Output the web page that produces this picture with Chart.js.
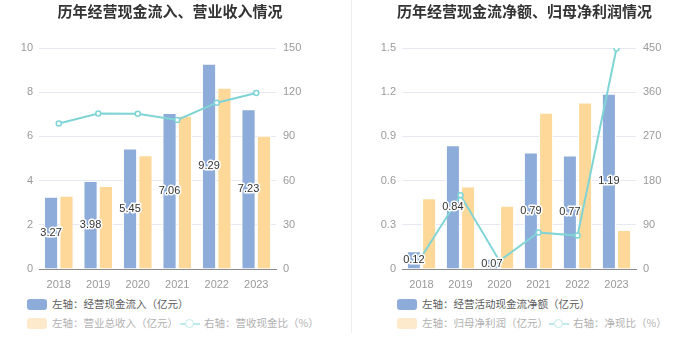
<!DOCTYPE html>
<html>
<head>
<meta charset="utf-8">
<script src="https://cdn.jsdelivr.net/npm/chart.js@4/dist/chart.umd.min.js"></script>
<style>
  body { margin: 0; background: #fff; font-family: "Noto Sans CJK SC", "Noto Sans", sans-serif; }
  #wrap { position: relative; width: 699px; height: 359px; overflow: hidden; }
  .box { position: absolute; top: 0; height: 290px; }
  .divider { position: absolute; left: 351px; top: 0; width: 1px; height: 333px; background: #eeeeee; }
  .leg { position: absolute; font-size: 10.5px; line-height: 14px; white-space: nowrap; color: #5c5c5c; }
  .leg.dim { color: #b0b0b0; }
  .sw { display: inline-block; width: 20px; height: 11px; border-radius: 3px; vertical-align: -2px; margin-right: 5px; }
  .ln { display: inline-block; position: relative; width: 20px; height: 11px; vertical-align: -2px; margin-right: 4px; }
  .ln:before { content: ""; position: absolute; left: 0; right: 0; top: 5px; height: 2px; background: #bfe9ea; }
  .ln:after { content: ""; position: absolute; left: 5px; top: 1px; width: 7px; height: 7px; border: 1.5px solid #bfe9ea; border-radius: 50%; background: #fff; }
</style>
</head>
<body>
<div id="wrap">
  <div class="box" style="left:0;width:340px"><canvas id="c1" width="340" height="290"></canvas></div>
  <div class="divider"></div>
  <div class="box" style="left:350px;width:349px"><canvas id="c2" width="349" height="290"></canvas></div>

  <div class="leg" style="left:27px;top:297px"><span class="sw" style="background:#8eacd9"></span>左轴：经营现金流入（亿元）</div>
  <div class="leg dim" style="left:27px;top:316px"><span class="sw" style="background:#fde9cb"></span>左轴：营业总收入（亿元）</div>
  <div class="leg dim" style="left:180px;top:316px"><span class="ln"></span>右轴：营收现金比（%）</div>

  <div class="leg" style="left:397px;top:297px"><span class="sw" style="background:#8eacd9"></span>左轴：经营活动现金流净额（亿元）</div>
  <div class="leg dim" style="left:397px;top:316px"><span class="sw" style="background:#fde9cb"></span>左轴：归母净利润（亿元）</div>
  <div class="leg dim" style="left:549px;top:316px"><span class="ln"></span>右轴：净现比（%）</div>
</div>
<script>
const years = ['2018', '2019', '2020', '2021', '2022', '2023'];

// left chart
const cashInflow = [3.27, 3.98, 5.45, 7.06, 9.29, 7.23];
const revenue = [3.31, 3.76, 5.15, 6.93, 8.20, 6.03];
const cashRevRatio = [98.8, 105.6, 105.3, 101.2, 112.9, 119.5];

// right chart
const netCashFlow = [0.12, 0.84, 0.07, 0.79, 0.77, 1.19];
const netProfit = [0.48, 0.56, 0.43, 1.06, 1.13, 0.265];
const netCashRatio = [25, 150, 16.5, 74.5, 68, 449];

const BLUE = '#8eacd9';
const YELLOW = '#fdd898';
const TEAL = '#7fd4d6';
const GRID = '#e6e8f2';
const TICK = '#9a9a9a';

// value labels in the middle of the blue bars
const barLabels = {
  id: 'barLabels',
  afterDatasetsDraw(chart) {
    const ctx = chart.ctx;
    const meta = chart.getDatasetMeta(0);
    ctx.save();
    ctx.font = '11px "Liberation Sans", Arial, sans-serif';
    ctx.textAlign = 'center';
    ctx.textBaseline = 'middle';
    ctx.lineJoin = 'round';
    meta.data.forEach((bar, i) => {
      const v = chart.data.datasets[0].data[i];
      const y = (bar.y + bar.base) / 2;
      ctx.strokeStyle = '#fff';
      ctx.lineWidth = 3;
      ctx.strokeText(v.toFixed(2), bar.x, y);
      ctx.fillStyle = '#333';
      ctx.fillText(v.toFixed(2), bar.x, y);
    });
    ctx.restore();
  }
};

function makeChart(id, title, bars1, bars2, line, leftMax, leftStep, rightMax, rightStep, leftW, rightW) {
  return new Chart(document.getElementById(id), {
    data: {
      labels: years,
      datasets: [
        {
          type: 'bar', data: bars1, yAxisID: 'y', order: 2,
          backgroundColor: BLUE, borderColor: '#fff', borderWidth: 1,
          categoryPercentage: 0.78, barPercentage: 0.92
        },
        {
          type: 'bar', data: bars2, yAxisID: 'y', order: 2,
          backgroundColor: YELLOW, borderColor: '#fff', borderWidth: 1,
          categoryPercentage: 0.78, barPercentage: 0.92
        },
        {
          type: 'line', data: line, yAxisID: 'y1', order: 1,
          borderColor: TEAL, borderWidth: 2, tension: 0,
          pointRadius: 2.5, pointBorderWidth: 1.5,
          pointBackgroundColor: '#fff', pointBorderColor: TEAL
        }
      ]
    },
    options: {
      responsive: false,
      animation: false,
      layout: { padding: 0 },
      font: { family: '"Liberation Sans", "Noto Sans CJK SC", sans-serif' },
      plugins: {
        legend: { display: false },
        tooltip: { enabled: false },
        title: {
          display: true, text: title, color: '#333',
          font: { size: 15, weight: 'bold', family: '"Noto Sans CJK SC", sans-serif', lineHeight: 1.2 },
          padding: { top: 2, bottom: 28 }
        }
      },
      scales: {
        x: {
          grid: { display: false },
          border: { color: '#8c8c8c' },
          ticks: { color: TICK, padding: 1, font: { size: 11, family: '"Liberation Sans", sans-serif' } },
          afterFit: s => { s.height = 21; }
        },
        y: {
          position: 'left', min: 0, max: leftMax,
          ticks: { stepSize: leftStep, color: TICK, padding: 6, font: { size: 11, family: '"Liberation Sans", sans-serif' },
            callback: v => +v.toFixed(1) },
          grid: { color: GRID, drawTicks: false },
          border: { display: false },
          afterFit: s => { s.width = leftW; }
        },
        y1: {
          position: 'right', min: 0, max: rightMax,
          ticks: { stepSize: rightStep, color: TICK, padding: 7, font: { size: 11, family: '"Liberation Sans", sans-serif' } },
          grid: { drawOnChartArea: false, drawTicks: false },
          border: { display: false },
          afterFit: s => { s.width = rightW; }
        }
      }
    },
    plugins: [barLabels]
  });
}

makeChart('c1', '历年经营现金流入、营业收入情况', cashInflow, revenue, cashRevRatio, 10, 2, 150, 30, 39, 64);
makeChart('c2', '历年经营现金流净额、归母净利润情况', netCashFlow, netProfit, netCashRatio, 1.5, 0.3, 450, 90, 52, 63);
</script>
</body>
</html>
